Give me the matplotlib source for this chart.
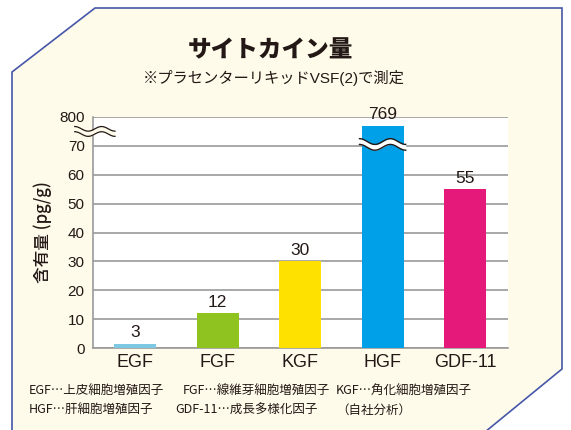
import numpy as np
import matplotlib
matplotlib.use("Agg")
import matplotlib.pyplot as plt
from matplotlib.patches import Polygon
import matplotlib.transforms as mtransforms

plt.rcParams['font.family'] = ['Liberation Sans', 'Noto Sans CJK JP', 'DejaVu Sans']

# ---- data ----
categories = ["EGF", "FGF", "KGF", "HGF", "GDF-11"]
value_labels = ["3", "12", "30", "769", "55"]
bar_heights = [1.5, 12, 30, 77, 55]          # drawn heights on broken axis scale
bar_colors = ["#7ec8e3", "#8fc31f", "#ffe100", "#00a0e9", "#e4197a"]
ytick_vals = [0, 10, 20, 30, 40, 50, 60, 70, 80]
ytick_labels = ["0", "10", "20", "30", "40", "50", "60", "70", "800"]
title = "サイトカイン量"
subtitle = "※プラセンターリキッドVSF(2)で測定"
ylabel = "含有量 (pg/g)"
notes_line1 = ["EGF…上皮細胞増殖因子", "FGF…線維芽細胞増殖因子", "KGF…角化細胞増殖因子"]
notes_line2 = ["HGF…肝細胞増殖因子", "GDF-11…成長多様化因子", "（自社分析）"]

W, H = 571, 430
fig = plt.figure(figsize=(W / 100, H / 100), dpi=100, facecolor="white")

def fx(px):
    return px / W

def fy(py):
    return 1 - py / H

# background panel
panel = Polygon([(fx(95), fy(8)), (fx(562), fy(8)), (fx(562), fy(369)),
                 (fx(485), fy(432)), (fx(12), fy(432)), (fx(12), fy(72))],
                closed=True, transform=fig.transFigure, facecolor="#fefbea",
                edgecolor="#4656a8", linewidth=1.2, zorder=-5)
fig.patches.append(panel)

ink = "#231815"
ax = fig.add_axes([fx(93), fy(348), fx(508) - fx(93), fy(117) - fy(348)])
ax.set_zorder(2)
ax.set_facecolor("white")
x = np.arange(len(categories))
bars = ax.bar(x, bar_heights, width=0.51, color=bar_colors, zorder=3)
ax.set_xlim(-0.51, 4.52)
ax.set_ylim(0, 80)
ax.set_yticks(ytick_vals)
ax.set_yticklabels(ytick_labels, fontsize=11, color=ink)
ax.set_xticks(x)
ax.set_xticklabels(categories, fontsize=13, color=ink)
ax.tick_params(axis='both', length=0)
ax.tick_params(axis='y', pad=6)
ax.tick_params(axis='x', pad=4)
ax.grid(axis='y', color="#9a9a9a", linewidth=1.2, zorder=1)
ax.set_axisbelow(True)
for s in ["top", "right"]:
    ax.spines[s].set_visible(False)
for s in ["left", "bottom"]:
    ax.spines[s].set_color("#9a9a9a")
    ax.spines[s].set_linewidth(1.2)

for xi, h, lab in zip(x, bar_heights, value_labels):
    ax.text(xi, h + 1.2, lab, ha='center', va='bottom', fontsize=12.5, color=ink,
            clip_on=False, zorder=5)

ax.set_ylabel(ylabel, fontsize=12, color=ink, fontweight='medium', labelpad=5,
              family=['Noto Sans CJK JP', 'DejaVu Sans'])

# break mark on HGF bar
t = np.linspace(0, 1, 100)
xs = 3 - 0.28 + 0.56 * t
wave = 1.0 * np.sin(2 * np.pi * 1.5 * t + np.pi / 2)
y0 = 70.5
gap = 2.0
ax.fill_between(xs, y0 + wave - gap / 2, y0 + wave + gap / 2, color="white", zorder=4, linewidth=0)
ax.plot(xs, y0 + wave - gap / 2, color=ink, linewidth=1.0, zorder=4)
ax.plot(xs, y0 + wave + gap / 2, color=ink, linewidth=1.0, zorder=4)

# break mark on y-axis
trans = mtransforms.blended_transform_factory(ax.transAxes, ax.transData)
xa = -0.044 + 0.097 * t
wave2 = 0.8 * np.sin(2 * np.pi * 1.5 * t + np.pi / 2)
y1 = 75.0
gap2 = 1.8
ax.fill_between(xa, y1 + wave2 - gap2 / 2, y1 + wave2 + gap2 / 2, color="#fefbea",
                transform=trans, zorder=6, linewidth=0, clip_on=False)
ax.plot(xa, y1 + wave2 - gap2 / 2, color=ink, linewidth=0.9, transform=trans, zorder=6, clip_on=False)
ax.plot(xa, y1 + wave2 + gap2 / 2, color=ink, linewidth=0.9, transform=trans, zorder=6, clip_on=False)

# titles
fig.text(fx(270), fy(50), title, ha='center', va='center', fontsize=17, fontweight='heavy',
         color=ink, family=['Noto Sans CJK JP', 'DejaVu Sans'])
fig.text(fx(274), fy(78), subtitle, ha='center', va='center', fontsize=11, color=ink)

# notes
cjk = ['Noto Sans CJK JP', 'DejaVu Sans']
xs1 = [29, 183, 336]
xs2 = [29, 175, 336]
for xp, s in zip(xs1, notes_line1):
    fig.text(fx(xp), fy(391), s, ha='left', va='center', fontsize=9, color=ink, family=cjk)
for xp, s in zip(xs2, notes_line2):
    fig.text(fx(xp), fy(410), s, ha='left', va='center', fontsize=9, color=ink, family=cjk)

fig.savefig("out.png", dpi=100, facecolor="white")
